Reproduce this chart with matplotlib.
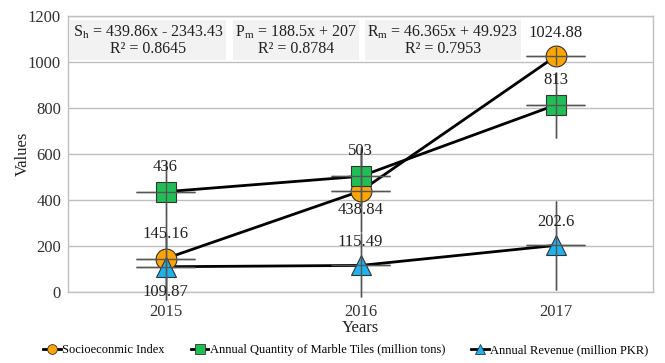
import matplotlib
matplotlib.use("Agg")
import matplotlib.pyplot as plt
import numpy as np

plt.rcParams['font.family'] = ['Liberation Serif', 'DejaVu Serif']
plt.rcParams['mathtext.default'] = 'regular'

years = ['2015', '2016', '2017']
socio = [145.16, 438.84, 1024.88]
tiles = [436, 503, 813]
revenue = [109.87, 115.49, 202.6]
socio_err = [160, 180, 40]
tiles_err = [130, 126, 143]
revenue_err = [143, 139, 195]
series_names = ['Socioeconmic Index',
                'Annual Quantity of Marble Tiles (million tons)',
                'Annual Revenue (million PKR)']
equations = [r'S$_{h}$ = 439.86x - 2343.43' + '\nR² = 0.8645',
             r'P$_{m}$ = 188.5x + 207' + '\nR² = 0.8784',
             r'R$_{m}$ = 46.365x + 49.923' + '\nR² = 0.7953']

fig = plt.figure(figsize=(6.65, 3.63), dpi=100)
ax = fig.add_axes([0.1023, 0.1956, 0.880, 0.7604])
x = np.arange(1, len(years) + 1)

ax.set_xlim(0.5, 3.5)
ax.set_ylim(0, 1200)
ax.set_yticks(range(0, 1201, 200))
ax.set_xticks(x)
ax.set_xticklabels(years)
ax.tick_params(length=0, labelsize=12, colors='#333333')
ax.tick_params(axis='x', pad=9)
ax.tick_params(axis='y', pad=5)
ax.grid(axis='y', color='#BFBFBF', linewidth=1)
ax.set_axisbelow(True)
for s in ax.spines.values():
    s.set_color('#BFBFBF')
    s.set_linewidth(1)

specs = [
    (socio, socio_err, 'o', '#FFA500'),
    (tiles, tiles_err, 's', '#1FBF55'),
    (revenue, revenue_err, '^', '#1EB3EE'),
]


def draw_err(vals, err, z):
    _, _, bars = ax.errorbar(x, vals, yerr=err, xerr=0.15, fmt='none',
                             ecolor='#555555', elinewidth=1, capsize=0,
                             zorder=z)
    for b in bars:
        b.set_clip_on(False)


for vals, err, m, c in specs:
    draw_err(vals, err, 2)
    ax.plot(x, vals, color='black', linewidth=2, zorder=3)
for vals, err, m, c in specs:
    ax.plot(x, vals, linestyle='none', marker=m, markersize=15,
            markerfacecolor=c, markeredgecolor='#333333', markeredgewidth=0.8,
            zorder=4)
for vals, err, m, c in specs:
    draw_err(vals, err, 5)

label_offsets = {
    0: [18, -14, 17],
    1: [18, 18, 18],
    2: [-18, 17, 17],
}
for i, (vals, err, m, c) in enumerate(specs):
    for j, v in enumerate(vals):
        ax.annotate(f'{v:g}', (x[j], v), xytext=(0, label_offsets[i][j]),
                    textcoords='offset points', ha='center', va='center',
                    fontsize=12, color='#222222', zorder=6)

box_x = [0.008, 0.286, 0.511]
for bx, eq in zip(box_x, equations):
    ax.text(bx, 0.974, eq, transform=ax.transAxes, ha='left', va='top',
            fontsize=11.5, color='#222222', multialignment='center',
            linespacing=1.05,
            bbox=dict(boxstyle='square,pad=0.15', facecolor='#F2F2F2',
                      edgecolor='none'), zorder=7)

ax.set_ylabel('Values', fontsize=12, color='#222222', labelpad=-2)
ax.set_xlabel('Years', fontsize=12, color='#222222', labelpad=0)

leg_handles = []
for vals, err, m, c in specs:
    hh, = ax.plot([], [], color='black', linewidth=2, marker=m, markersize=7,
                  markerfacecolor=c, markeredgecolor='#333333',
                  markeredgewidth=0.6)
    leg_handles.append(hh)
fig.legend(leg_handles, series_names, loc='center', ncol=3,
           bbox_to_anchor=(0.52, 0.035), frameon=False, fontsize=9,
           handlelength=1.4, handletextpad=0.1, columnspacing=2.1)

fig.savefig('out.png', dpi=100)
